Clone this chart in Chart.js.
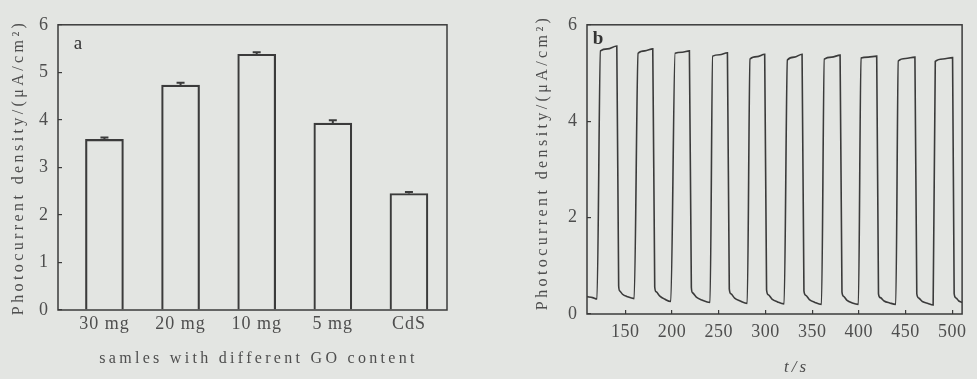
<!DOCTYPE html>
<html>
<head>
<meta charset="utf-8">
<script src="https://cdn.jsdelivr.net/npm/chart.js@4"></script>
<style>
  html, body { margin: 0; padding: 0; background: #e3e5e2; }
  body { width: 977px; height: 379px; position: relative; overflow: hidden; }
  #c1 { position: absolute; left: 0; top: 0; }
  #c2 { position: absolute; left: 490px; top: 0; }
</style>
</head>
<body>
<canvas id="c1" width="470" height="379"></canvas>
<canvas id="c2" width="487" height="379"></canvas>
<script>
// ---------- Panel a data ----------
const categories = ['30 mg', '20 mg', '10 mg', '5 mg', 'CdS'];
const barValues = [3.59, 4.73, 5.38, 3.93, 2.45];
const barErrors = [0.04, 0.05, 0.04, 0.06, 0.03];
const yTicksA = [0, 1, 2, 3, 4, 5, 6];

// ---------- Panel b data (time in s, photocurrent density) ----------
const timeB = [
  109, 115, 119.7,
  123.4, 131, 140.9, 142.9, 144, 147, 152, 159.5,
  163.7, 171, 179.4, 181.5, 183, 187, 192, 198.7,
  203.3, 211, 218.6, 220.7, 222, 226, 232, 240.7,
  243.5, 251, 259.3, 261.3, 263, 267, 273, 280.5,
  283.5, 291, 299.2, 301.2, 303, 307, 313, 320,
  323.5, 331, 339.2, 341.2, 343, 347, 353, 360,
  363, 371, 379.9, 381.9, 383.5, 387, 393, 399.5,
  402.3, 410, 419.1, 421, 423, 427, 433, 439.5,
  442.2, 450, 460, 462, 464, 468, 474, 479.5,
  481.8, 490, 500.3, 502, 504, 507, 510.5
];
const currentB = [
  0.36, 0.34, 0.31,
  5.46, 5.50, 5.56, 0.58, 0.48, 0.41, 0.36, 0.32,
  5.41, 5.46, 5.50, 0.56, 0.46, 0.37, 0.31, 0.26,
  5.41, 5.43, 5.46, 0.55, 0.44, 0.35, 0.29, 0.24,
  5.35, 5.38, 5.42, 0.52, 0.42, 0.33, 0.27, 0.22,
  5.29, 5.34, 5.39, 0.50, 0.40, 0.31, 0.25, 0.21,
  5.27, 5.33, 5.39, 0.48, 0.39, 0.30, 0.24, 0.20,
  5.29, 5.33, 5.37, 0.46, 0.37, 0.29, 0.23, 0.20,
  5.31, 5.33, 5.35, 0.42, 0.34, 0.27, 0.23, 0.20,
  5.25, 5.30, 5.33, 0.42, 0.33, 0.26, 0.22, 0.19,
  5.24, 5.29, 5.32, 0.42, 0.33, 0.27, 0.24
];
const xTicksB = [150, 200, 250, 300, 350, 400, 450, 500];
const yTicksB = [0, 2, 4, 6];

const yTitle = 'Photocurrent density/(\u03bcA/cm\u00b2)';
const xTitleA = 'samles with different GO content';
const xTitleB = 't/s';

const INK = '#3b3b3b';
const TXT = '#4e4e4e';
const SERIF = "'Liberation Serif', 'DejaVu Serif', serif";

// letter spacing / title shift wrapper
function makeSpacing(cfg) {
  return {
    id: 'spacing',
    afterUpdate(chart) {
      Object.values(chart.scales).forEach(s => {
        const c = cfg[s.id] || {};
        if (s._wrapped) return;
        const dt = s.drawTitle, dl = s.drawLabels;
        s.drawTitle = function () {
          const ctx = this.ctx; ctx.save();
          ctx.letterSpacing = (c.title || 0) + 'px';
          ctx.translate(c.sx || 0, c.sy || 0);
          dt.call(this); ctx.restore();
        };
        s.drawLabels = function (a) {
          const ctx = this.ctx; ctx.save();
          ctx.letterSpacing = (c.tick || 0) + 'px';
          dl.call(this, a); ctx.restore();
        };
        s._wrapped = true;
      });
    }
  };
}

function frameAndLabel(text, dx, dy, bold) {
  return {
    id: 'frame',
    afterDraw(chart) {
      const {ctx, chartArea: a} = chart;
      ctx.save();
      ctx.strokeStyle = INK; ctx.lineWidth = 1.5;
      ctx.strokeRect(a.left, a.top, a.right - a.left, a.bottom - a.top);
      ctx.fillStyle = '#333';
      ctx.font = (bold ? 'bold ' : '') + '19px ' + SERIF;
      ctx.textAlign = 'center'; ctx.textBaseline = 'middle';
      ctx.fillText(text, a.left + dx, a.top + dy);
      ctx.restore();
    }
  };
}

const errorBars = {
  id: 'errorBars',
  afterDatasetsDraw(chart) {
    const {ctx, scales: {x, y}} = chart;
    ctx.save();
    ctx.strokeStyle = INK; ctx.lineWidth = 2;
    barValues.forEach((v, i) => {
      const px = x.getPixelForValue(i + 1);
      const y1 = y.getPixelForValue(v);
      const y2 = y.getPixelForValue(v + barErrors[i]);
      ctx.beginPath();
      ctx.moveTo(px, y1); ctx.lineTo(px, y2);
      ctx.moveTo(px - 4, y2); ctx.lineTo(px + 4, y2);
      ctx.stroke();
    });
    ctx.restore();
  }
};

new Chart(document.getElementById('c1'), {
  type: 'bar',
  data: {
    datasets: [{
      data: barValues.map((v, i) => ({x: i + 1, y: v})),
      backgroundColor: 'rgba(0,0,0,0)',
      borderColor: INK,
      borderWidth: 1.5,
      barThickness: 38
    }]
  },
  options: {
    responsive: false,
    animation: false,
    layout: {padding: {left: 0, top: 14, right: 23, bottom: 0}},
    plugins: {legend: {display: false}, tooltip: {enabled: false}},
    scales: {
      x: {
        type: 'linear', min: 0.39, max: 5.5, offset: false,
        afterBuildTicks: s => { s.ticks = categories.map((c, i) => ({value: i + 1})); },
        afterFit: s => { s.height = 69; },
        grid: {drawOnChartArea: false, drawTicks: false, offset: false},
        border: {display: false},
        ticks: {
          callback: v => categories[v - 1],
          color: TXT, padding: 3, maxRotation: 0, autoSkip: false,
          font: {family: SERIF, size: 18}
        },
        title: {
          display: true, text: xTitleA, color: TXT,
          font: {family: SERIF, size: 16}, padding: {top: 0, bottom: 11}
        }
      },
      y: {
        min: 0, max: 6,
        afterBuildTicks: s => { s.ticks = yTicksA.map(v => ({value: v})); },
        afterFit: s => { s.width = 58; },
        grid: {drawOnChartArea: false, tickLength: -4, color: INK, lineWidth: 1.2},
        border: {display: false},
        ticks: {color: TXT, padding: 14, font: {family: SERIF, size: 18}},
        title: {
          display: true, text: yTitle, color: TXT,
          font: {family: SERIF, size: 16}, padding: {top: 9, bottom: 0}
        }
      }
    }
  },
  plugins: [errorBars, frameAndLabel('a', 20, 19, false),
    makeSpacing({x: {title: 3.3, tick: 1, sx: 6}, y: {title: 3.4, tick: 0}})]
});

new Chart(document.getElementById('c2'), {
  type: 'line',
  data: {
    datasets: [{
      data: timeB.map((t, i) => ({x: t, y: currentB[i]})),
      borderColor: INK,
      borderWidth: 1.6,
      pointRadius: 0,
      fill: false,
      cubicInterpolationMode: 'monotone'
    }]
  },
  options: {
    responsive: false,
    animation: false,
    layout: {padding: {left: 40, top: 23, right: 8, bottom: 0}},
    plugins: {legend: {display: false}, tooltip: {enabled: false}},
    scales: {
      x: {
        type: 'linear', min: 109, max: 510.5,
        afterBuildTicks: s => { s.ticks = xTicksB.map(v => ({value: v})); },
        afterFit: s => { s.height = 65; },
        grid: {drawOnChartArea: false, tickLength: -4, color: INK, lineWidth: 1.2},
        border: {display: false},
        ticks: {color: TXT, padding: 11, maxRotation: 0, autoSkip: false,
          font: {family: SERIF, size: 18}},
        title: {
          display: true, text: xTitleB, color: TXT,
          font: {family: SERIF, size: 17, style: 'italic'}, padding: {top: 0, bottom: 1}
        }
      },
      y: {
        min: 0, max: 6,
        afterBuildTicks: s => { s.ticks = yTicksB.map(v => ({value: v})); },
        afterFit: s => { s.width = 57; },
        grid: {drawOnChartArea: false, tickLength: -4, color: INK, lineWidth: 1.2},
        border: {display: false},
        ticks: {color: TXT, padding: 14, font: {family: SERIF, size: 18}},
        title: {
          display: true, text: yTitle, color: TXT,
          font: {family: SERIF, size: 16}, padding: {top: 3, bottom: 0}
        }
      }
    }
  },
  plugins: [frameAndLabel('b', 11, 14, true),
    makeSpacing({x: {title: 3, tick: 0.5, sx: 22}, y: {title: 3.4, tick: 0, sy: -7}})]
});
</script>
</body>
</html>
